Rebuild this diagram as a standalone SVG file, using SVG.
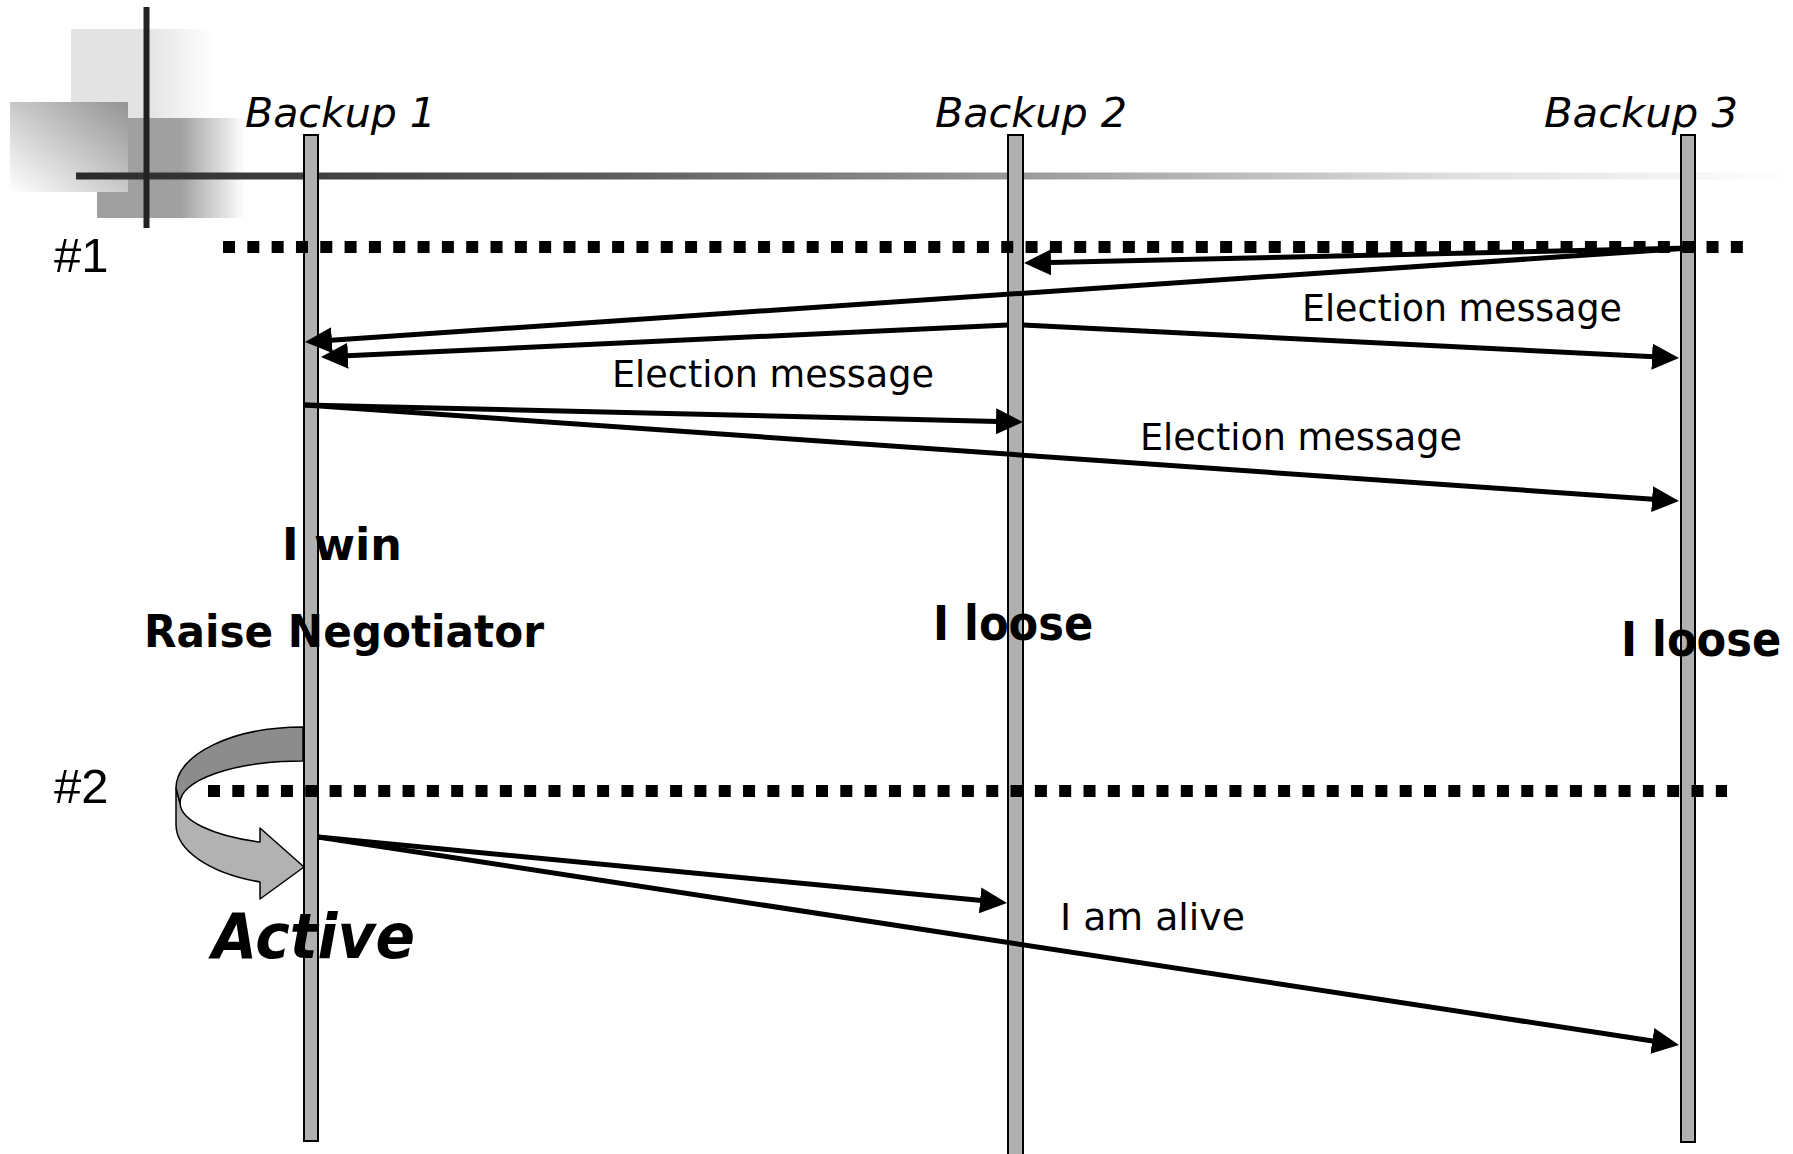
<svg xmlns="http://www.w3.org/2000/svg" width="1793" height="1154" viewBox="0 0 1793 1154">
  <style>
    .lbl { font-family: "DejaVu Sans", Verdana, sans-serif; fill: #000; }
    .head { font-style: italic; font-size: 40px; }
    .msg { font-size: 38px; }
    .bold { font-weight: bold; }
    .num { font-family: "Liberation Sans", Arial, sans-serif; font-size: 49px; fill: #000; }
    .life { fill: #b0b0b0; stroke: #000; stroke-width: 2; }
    .dots { stroke: #000; stroke-width: 12; stroke-dasharray: 12 12.32; fill: none; }
    .msgline { stroke: #000; stroke-width: 5; fill: none; marker-end: url(#ah); }
  </style>
  <defs>
    <marker id="ah" markerUnits="userSpaceOnUse" markerWidth="27" markerHeight="26" viewBox="0 0 27 26" refX="12" refY="13" orient="auto">
      <path d="M0,0 L27,13 L0,26 Z" fill="#000"/>
    </marker>
    <linearGradient id="hlineG" gradientUnits="userSpaceOnUse" x1="76" y1="0" x2="1793" y2="0">
      <stop offset="0" stop-color="#2a2a2a"/>
      <stop offset="0.3" stop-color="#5a5a5a"/>
      <stop offset="0.55" stop-color="#9a9a9a"/>
      <stop offset="0.8" stop-color="#dedede"/>
      <stop offset="1" stop-color="#ffffff"/>
    </linearGradient>
    <linearGradient id="lightG" x1="0" y1="0" x2="1" y2="0">
      <stop offset="0" stop-color="#e4e4e4"/>
      <stop offset="0.55" stop-color="#e4e4e4"/>
      <stop offset="1" stop-color="#ffffff"/>
    </linearGradient>
    <linearGradient id="medG" x1="0" y1="0" x2="1" y2="0">
      <stop offset="0" stop-color="#a0a0a0"/>
      <stop offset="0.56" stop-color="#a0a0a0"/>
      <stop offset="1" stop-color="#ffffff"/>
    </linearGradient>
    <linearGradient id="boxG" x1="0" y1="1" x2="1" y2="0">
      <stop offset="0" stop-color="#ffffff"/>
      <stop offset="1" stop-color="#939393"/>
    </linearGradient>
  </defs>

  <rect width="1793" height="1154" fill="#fff"/>

  <g id="decoration">
    <rect x="71" y="29" width="143" height="89" fill="url(#lightG)"/>
    <rect x="97" y="118" width="148" height="100" fill="url(#medG)"/>
    <rect x="10" y="102" width="118" height="90" fill="url(#boxG)"/>
    <rect x="76" y="172.5" width="1717" height="7" fill="url(#hlineG)"/>
    <rect x="143.5" y="7" width="6" height="221" fill="#222"/>
  </g>

  <g id="curved-arrow">
    <path d="M176,788 L176,825 A127,61 0 0 0 260,882 L260,899 L304,867 L260,828 L260,842 A123,42 0 0 1 180,803 Z" fill="#b2b2b2" stroke="#000" stroke-width="1.5" stroke-linejoin="round"/>
    <path d="M303,727 A127,61 0 0 0 176,788 L180,803 A123,42 0 0 1 303,761 Z" fill="#8c8c8c" stroke="#000" stroke-width="1.5" stroke-linejoin="round"/>
  </g>

  <g id="backup1">
    <rect class="life" x="304" y="135" width="14" height="1006"/>
    <text class="lbl head" x="245" y="127" textLength="191" lengthAdjust="spacingAndGlyphs">Backup 1</text>
  </g>
  <g id="backup2">
    <rect class="life" x="1008" y="135" width="15" height="1025"/>
    <text class="lbl head" x="935" y="127" textLength="192" lengthAdjust="spacingAndGlyphs">Backup 2</text>
  </g>
  <g id="backup3">
    <rect class="life" x="1681" y="135" width="14" height="1007"/>
    <text class="lbl head" x="1544" y="127" textLength="194" lengthAdjust="spacingAndGlyphs">Backup 3</text>
  </g>

  <g id="phases">
    <text class="num" x="54" y="272">#1</text>
    <text class="num" x="54" y="803">#2</text>
    <line class="dots" x1="223" y1="247" x2="1744" y2="247"/>
    <line class="dots" x1="208" y1="791" x2="1727" y2="791"/>
  </g>

  <g id="states">
    <text class="lbl bold" font-size="45" x="282" y="560" textLength="120" lengthAdjust="spacingAndGlyphs">I win</text>
    <text class="lbl bold" font-size="45" x="144" y="647" textLength="400" lengthAdjust="spacingAndGlyphs">Raise Negotiator</text>
    <text class="lbl bold" font-size="48" transform="translate(933,640) scale(0.9,1)" x="0" y="0">I loose</text>
    <text class="lbl bold" font-size="48" transform="translate(1621,656) scale(0.9,1)" x="0" y="0">I loose</text>
    <text class="lbl bold" font-size="62" font-style="italic" x="212" y="958" textLength="203" lengthAdjust="spacingAndGlyphs">Active</text>
  </g>

  <g id="connectors">
    <line class="msgline" x1="1690" y1="248" x2="1039" y2="262.66"/>
    <line class="msgline" x1="1690" y1="248" x2="319.97" y2="340.98"/>
    <line class="msgline" x1="1008" y1="325" x2="335.98" y2="356.3"/>
    <line class="msgline" x1="1023" y1="325" x2="1664.02" y2="357.25"/>
    <line class="msgline" x1="305" y1="405" x2="1008" y2="421.64"/>
    <line class="msgline" x1="305" y1="405" x2="1664.04" y2="499.95"/>
    <line class="msgline" x1="318" y1="837" x2="992.07" y2="901.57"/>
    <line class="msgline" x1="318" y1="837" x2="1664.17" y2="1042.73"/>
    <text class="lbl msg" x="1302" y="321" textLength="320" lengthAdjust="spacingAndGlyphs">Election message</text>
    <text class="lbl msg" x="612" y="387" textLength="322" lengthAdjust="spacingAndGlyphs">Election message</text>
    <text class="lbl msg" x="1140" y="450" textLength="322" lengthAdjust="spacingAndGlyphs">Election message</text>
    <text class="lbl msg" x="1060" y="930" textLength="185" lengthAdjust="spacingAndGlyphs">I am alive</text>
  </g>
</svg>
